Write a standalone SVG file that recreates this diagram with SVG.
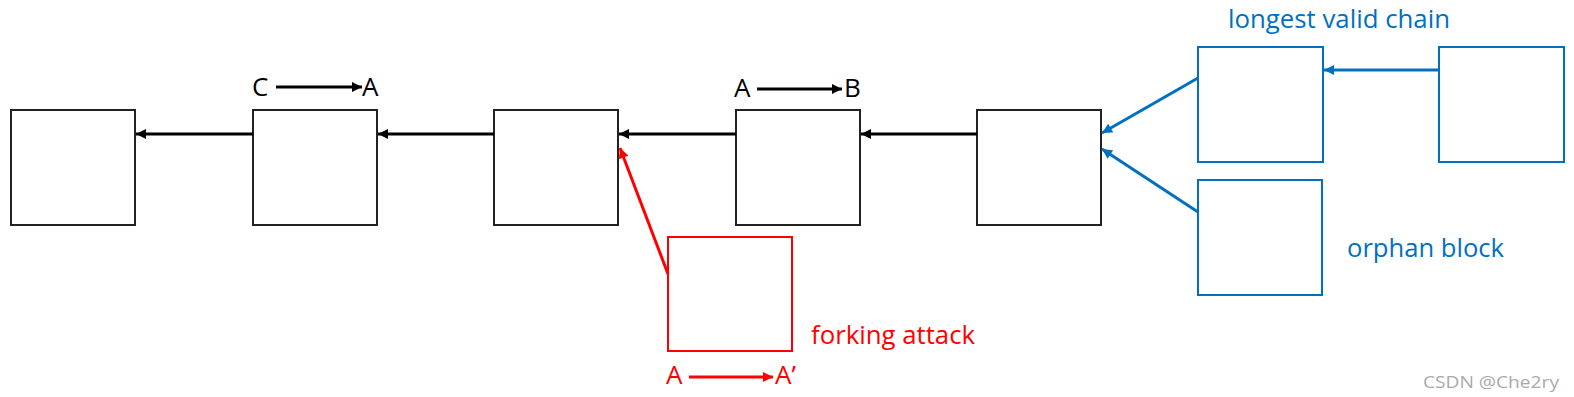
<svg xmlns="http://www.w3.org/2000/svg" width="1574" height="397" viewBox="0 0 1574 397">
<defs>
<style>
.blk{fill:#fff;stroke:#222;stroke-width:2}
.blu{fill:#fff;stroke:#0070C0;stroke-width:2}
.red{fill:#fff;stroke:#FF0000;stroke-width:2}
.lk{stroke:#000;stroke-width:3;fill:none}
.lb{stroke:#0070C0;stroke-width:3;fill:none}
.lr{stroke:#FF0000;stroke-width:3;fill:none}
text{font-family:"Open Sans","Noto Sans",sans-serif}
.t{font-size:25px}
.L{font-size:26px}
</style>
<marker id="ak" viewBox="0 0 10 10" refX="10" refY="5" markerWidth="11" markerHeight="10" markerUnits="userSpaceOnUse" orient="auto"><path d="M0,0L10,5L0,10z" fill="#000"/></marker>
<marker id="ab" viewBox="0 0 10 10" refX="10" refY="5" markerWidth="11" markerHeight="10" markerUnits="userSpaceOnUse" orient="auto"><path d="M0,0L10,5L0,10z" fill="#0070C0"/></marker>
<marker id="ar" viewBox="0 0 10 10" refX="10" refY="5" markerWidth="11" markerHeight="10" markerUnits="userSpaceOnUse" orient="auto"><path d="M0,0L10,5L0,10z" fill="#FF0000"/></marker>
</defs>
<rect width="1574" height="397" fill="#fff"/>
<g id="b1"><rect class="blk" x="11" y="110" width="124" height="115"/></g>
<g id="b2"><rect class="blk" x="253" y="110" width="124" height="115"/></g>
<g id="b3"><rect class="blk" x="494" y="110" width="124" height="115"/></g>
<g id="b4"><rect class="blk" x="736" y="110" width="124" height="115"/></g>
<g id="b5"><rect class="blk" x="977" y="110" width="124" height="115"/></g>
<g id="v1"><rect class="blu" x="1198" y="47" width="125" height="115"/></g>
<g id="v2"><rect class="blu" x="1439" y="47" width="125" height="115"/></g>
<g id="o1"><rect class="blu" x="1198" y="180" width="124" height="115"/></g>
<g id="f1"><rect class="red" x="668" y="237" width="124" height="114"/></g>
<g id="connectors">
<line class="lk" x1="253" y1="134" x2="136" y2="134" marker-end="url(#ak)"/>
<line class="lk" x1="494" y1="134" x2="378" y2="134" marker-end="url(#ak)"/>
<line class="lk" x1="736" y1="134" x2="619" y2="134" marker-end="url(#ak)"/>
<line class="lk" x1="977" y1="134" x2="861" y2="134" marker-end="url(#ak)"/>
<line class="lb" x1="1439" y1="70" x2="1324" y2="70" marker-end="url(#ab)"/>
<line class="lb" x1="1198" y1="78" x2="1102" y2="133" marker-end="url(#ab)"/>
<line class="lb" x1="1198" y1="212" x2="1102" y2="149" marker-end="url(#ab)"/>
<line class="lr" x1="668" y1="274" x2="620" y2="148" marker-end="url(#ar)"/>
<line class="lk" x1="276" y1="87" x2="362" y2="87" marker-end="url(#ak)"/>
<line class="lk" x1="757" y1="89" x2="842" y2="89" marker-end="url(#ak)"/>
<line class="lr" x1="689" y1="377" x2="773" y2="377" marker-end="url(#ar)"/>
</g>
<g id="labels">
<text class="L" x="252" y="96">C</text>
<text class="L" x="362" y="96">A</text>
<text class="L" x="734" y="97">A</text>
<text class="L" x="844" y="97">B</text>
<text class="L" x="666" y="384" fill="#FF0000">A</text>
<text class="L" x="775" y="384" fill="#FF0000">A’</text>
<text class="t" x="811" y="344" fill="#FF0000" textLength="164" lengthAdjust="spacingAndGlyphs">forking attack</text>
<text class="t" x="1228" y="28" fill="#0070C0" textLength="222" lengthAdjust="spacingAndGlyphs">longest valid chain</text>
<text class="t" x="1347" y="257" fill="#0070C0" textLength="157" lengthAdjust="spacingAndGlyphs">orphan block</text>
<text x="1423" y="388" font-size="16" fill="#aaa" textLength="136" lengthAdjust="spacingAndGlyphs">CSDN @Che2ry</text>
</g>
</svg>
